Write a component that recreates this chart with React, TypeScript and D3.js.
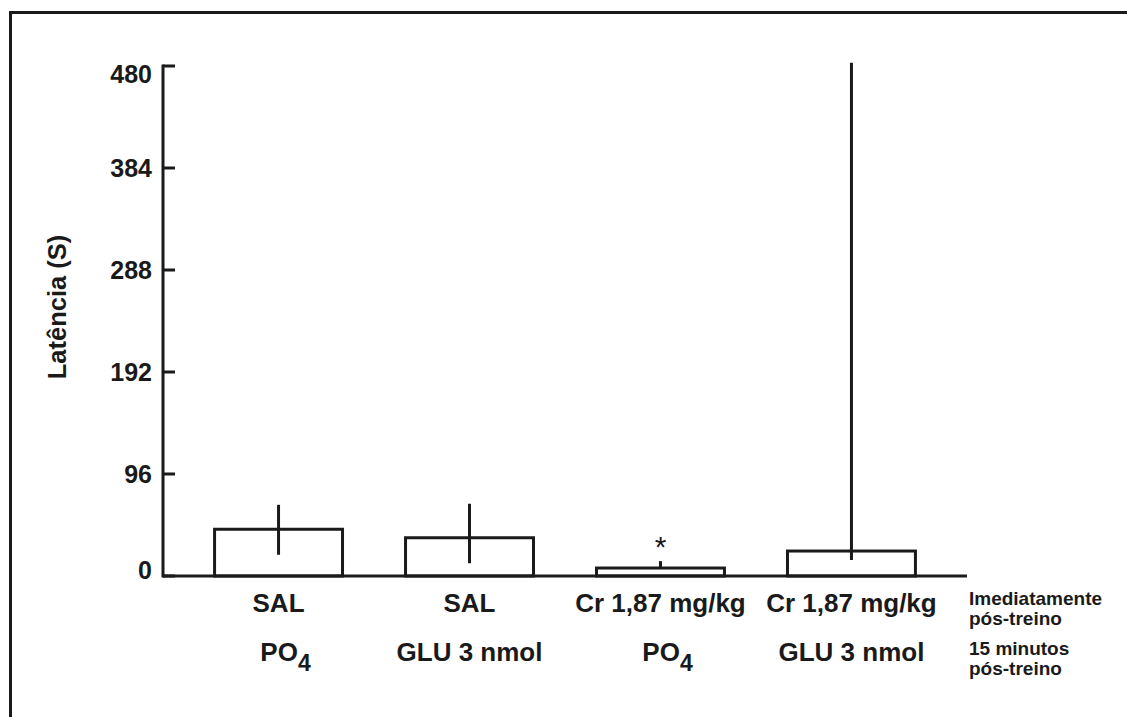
import * as d3 from "d3";

// groups and their two-line labels
const groups = ["g1", "g2", "g3", "g4"];
const topLabels = ["SAL", "SAL", "Cr 1,87 mg/kg", "Cr 1,87 mg/kg"];
const bottomLabels = ["PO", "GLU 3 nmol", "PO", "GLU 3 nmol"];
const bottomSubs = ["4", "", "4", ""];

// latency (s): mean and error bar ends
const means = [44, 36, 7.5, 23.5];
const errLow = [20, 12, 7.5, 15];
const errHigh = [67, 68, 14, 483];
const significant = [false, false, true, false];

const yTicks = [0, 96, 192, 288, 384, 480];
const yTitle = "Latência (S)";
const notes = [
  ["Imediatamente", "pós-treino"],
  ["15 minutos", "pós-treino"],
];

const W = 1127, H = 717;
const left = 163, right = 967, top = 66, bottom = 576;
const font = "'Liberation Sans', Arial, Helvetica, sans-serif";
const ink = "#1a1a1a";

export default function App() {
  const x = d3.scaleBand().domain(groups).range([left, right]).paddingInner(0.33).paddingOuter(0.27);
  const y = d3.scaleLinear().domain([0, 480]).range([bottom, top]);
  const bw = x.bandwidth();

  // the old figure has its end labels nudged off their ticks
  const labelShift = (t: number) => (t === 480 ? 8 : t === 0 ? -6 : 0);

  return (
    <div style={{ position: "fixed", left: 0, top: 0, width: W, height: H, background: "#fff" }}>
      <svg width={W} height={H} style={{ display: "block" }} fontFamily={font} fontWeight="bold">
        {/* frame (top and left edges only visible) */}
        <path d={`M10.5,${H} V12.5 H${W}`} fill="none" stroke={ink} strokeWidth={3} />

        {/* bars */}
        {groups.map((g, i) => (
          <rect key={"b" + g} x={x(g)} y={y(means[i])} width={bw} height={y(0) - y(means[i])}
            fill="#fff" stroke={ink} strokeWidth={3} />
        ))}

        {/* error bars */}
        {groups.map((g, i) => (
          <line key={"e" + g} x1={x(g)! + bw / 2} x2={x(g)! + bw / 2} y1={y(errLow[i])} y2={y(errHigh[i])}
            stroke={ink} strokeWidth={3} />
        ))}

        {/* significance */}
        {groups.map((g, i) => significant[i] ? (
          <text key={"s" + g} x={x(g)! + bw / 2} y={y(errHigh[i]) - 4} textAnchor="middle"
            fontSize={30} fontWeight="normal" fill={ink}>*</text>
        ) : null)}

        {/* axes */}
        <line x1={left} x2={left} y1={y(480) - 1.5} y2={bottom + 1.5} stroke={ink} strokeWidth={3} />
        <line x1={left} x2={right} y1={bottom} y2={bottom} stroke={ink} strokeWidth={3} />
        {yTicks.map(t => (
          <g key={"t" + t}>
            <line x1={left} x2={left + 12} y1={y(t)} y2={y(t)} stroke={ink} strokeWidth={3} />
            <text x={152} y={y(t) + labelShift(t)} dy="0.36em" textAnchor="end" fontSize={25} fill={ink}>{t}</text>
          </g>
        ))}
        <text transform={`translate(66,${(top + bottom) / 2 - 14}) rotate(-90)`} textAnchor="middle"
          fontSize={25.5} fill={ink}>{yTitle}</text>

        {/* category labels */}
        {groups.map((g, i) => (
          <g key={"l" + g}>
            <text x={x(g)! + bw / 2} y={612} textAnchor="middle" fontSize={26} fill={ink}>{topLabels[i]}</text>
            <text x={x(g)! + bw / 2} dx={bottomSubs[i] ? 7 : 0} y={661} textAnchor="middle" fontSize={26} fill={ink}>
              {bottomLabels[i]}
              {bottomSubs[i] ? <tspan dy={10} fontSize={23}>{bottomSubs[i]}</tspan> : null}
            </text>
          </g>
        ))}

        {/* timing notes */}
        {notes.map((n, k) => (
          <text key={"n" + k} x={969} y={605 + k * 50} fontSize={19} fill={ink}>
            <tspan x={969}>{n[0]}</tspan>
            <tspan x={969} dy={20}>{n[1]}</tspan>
          </text>
        ))}
      </svg>
    </div>
  );
}
